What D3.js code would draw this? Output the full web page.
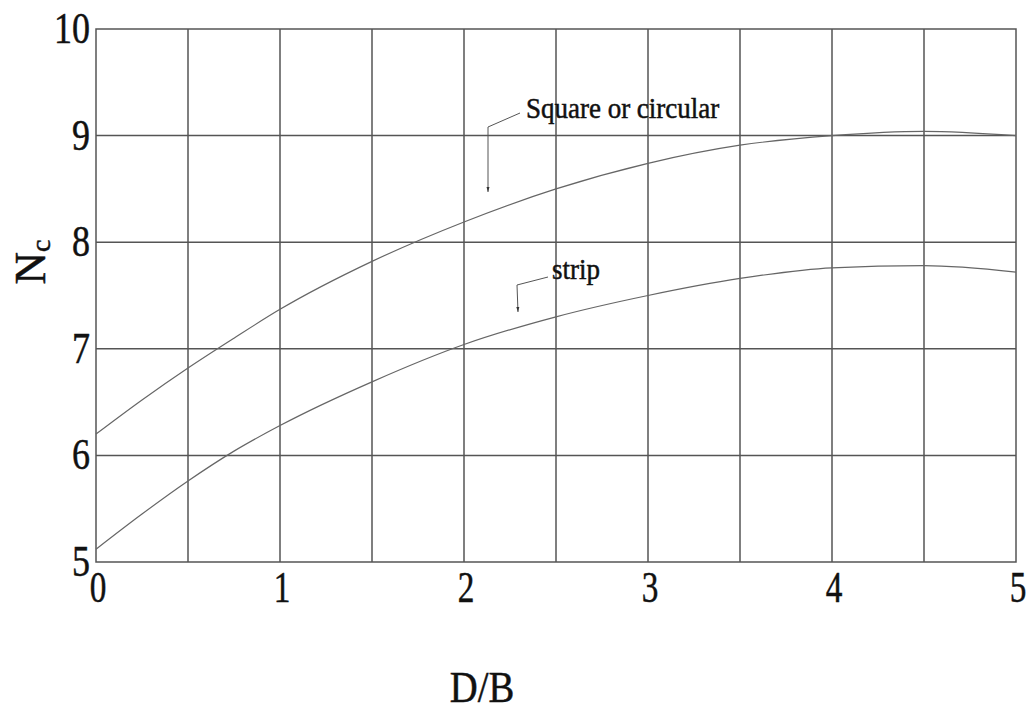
<!DOCTYPE html>
<html lang="en">
<head>
    <meta charset="UTF-8">
    <title>Nc vs D/B</title>
    <script src="https://d3js.org/d3.v7.min.js"></script>
    <style>
        body { margin: 0; background: #fff; }
        text { font-family: "Liberation Serif", "Times New Roman", serif; fill: #111; stroke: #111; stroke-width: 0.5; }
    </style>
</head>
<body>
    <script>
        const xTicks = [0, 1, 2, 3, 4, 5];
        const yTicks = [5, 6, 7, 8, 9, 10];
        const xGrid = [0.5, 1, 1.5, 2, 2.5, 3, 3.5, 4, 4.5];
        const yGrid = [6, 7, 8, 9];

        const dB = [0, 0.25, 0.5, 0.75, 1, 1.5, 2, 2.5, 3, 3.5, 4, 4.5, 5];
        const squareNc = [6.2, 6.52, 6.82, 7.1, 7.37, 7.82, 8.19, 8.5, 8.74, 8.91, 9.0, 9.04, 9.0];
        const stripNc = [5.12, 5.45, 5.76, 6.04, 6.28, 6.69, 7.04, 7.3, 7.5, 7.66, 7.76, 7.78, 7.72];

        const width = 1029, height = 713;
        const pLeft = 96, pRight = 1016, pTop = 29, pBottom = 562;

        const x = d3.scaleLinear().domain([0, 5]).range([pLeft, pRight]);
        const y = d3.scaleLinear().domain([5, 10]).range([pBottom, pTop]);

        const svg = d3.select("body").append("svg")
            .attr("width", width)
            .attr("height", height);

        // grid
        svg.selectAll("line.vg").data(xGrid).enter().append("line")
            .attr("x1", d => x(d)).attr("x2", d => x(d))
            .attr("y1", pTop).attr("y2", pBottom)
            .attr("stroke", "#555").attr("stroke-width", 1.5);
        svg.selectAll("line.hg").data(yGrid).enter().append("line")
            .attr("x1", pLeft).attr("x2", pRight)
            .attr("y1", d => y(d)).attr("y2", d => y(d))
            .attr("stroke", "#555").attr("stroke-width", 1.5);
        svg.append("rect")
            .attr("x", pLeft).attr("y", pTop)
            .attr("width", pRight - pLeft).attr("height", pBottom - pTop)
            .attr("fill", "none").attr("stroke", "#555").attr("stroke-width", 1.5);

        // curves
        const line = d3.line().x(d => x(d[0])).y(d => y(d[1])).curve(d3.curveMonotoneX);
        [squareNc, stripNc].forEach(s => {
            svg.append("path")
                .attr("d", line(dB.map((d, i) => [d, s[i]])))
                .attr("fill", "none").attr("stroke", "#666").attr("stroke-width", 1.2);
        });

        // tick labels
        svg.selectAll("text.yt").data(yTicks).enter().append("text")
            .attr("transform", d => `translate(${pLeft - 6},${y(d) + 14}) scale(0.8,1)`)
            .attr("text-anchor", "end")
            .attr("font-size", 45)
            .text(d => d);
        svg.selectAll("text.xt").data(xTicks).enter().append("text")
            .attr("transform", d => `translate(${x(d) + 2},${602}) scale(0.74,1)`)
            .attr("text-anchor", "middle")
            .attr("font-size", 45)
            .text(d => d);

        // axis titles
        svg.append("text")
            .attr("transform", `translate(482,702) scale(0.86,1)`)
            .attr("text-anchor", "middle")
            .attr("font-size", 45)
            .text("D/B");
        const yl = svg.append("text")
            .attr("transform", `translate(45,262) rotate(-90)`)
            .attr("text-anchor", "middle")
            .attr("font-size", 45);
        yl.append("tspan").text("N");
        yl.append("tspan").attr("font-size", 28).attr("dy", 5).text("c");

        // annotations
        svg.append("defs").append("marker")
            .attr("id", "arr").attr("viewBox", "0 0 10 10")
            .attr("refX", 10).attr("refY", 5)
            .attr("markerWidth", 5).attr("markerHeight", 8)
            .attr("orient", "auto")
            .append("path").attr("d", "M0,2 L10,5 L0,8 Z").attr("fill", "#333");

        function note(label, tx, ty, pts) {
            svg.append("polyline")
                .attr("points", pts.map(p => p.join(",")).join(" "))
                .attr("fill", "none").attr("stroke", "#555").attr("stroke-width", 1)
                .attr("marker-end", "url(#arr)");
            svg.append("text")
                .attr("transform", `translate(${tx},${ty}) scale(0.9,1)`)
                .attr("font-size", 30)
                .text(label);
        }
        note("Square or circular", 526, 118, [[520, 113], [488, 127], [488, 192]]);
        note("strip", 552, 279, [[548, 277], [517, 285], [518, 312]]);
    </script>
</body>
</html>
